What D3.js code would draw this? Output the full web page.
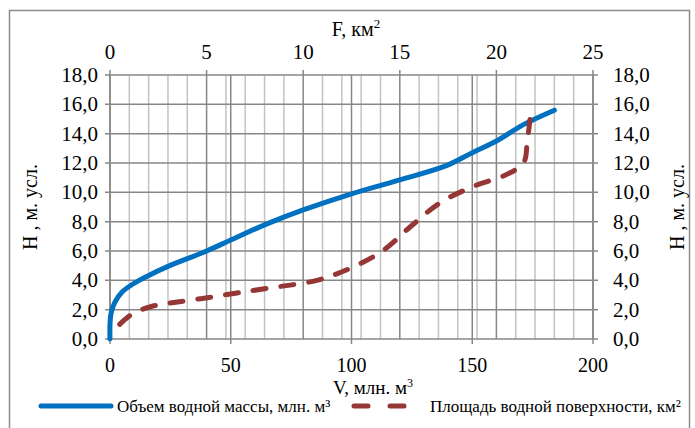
<!DOCTYPE html>
<html lang="ru">
<head>
    <meta charset="UTF-8">
    <title>H-V-F</title>
    <script src="https://d3js.org/d3.v7.min.js"></script>
    <style>
        body { margin: 0; overflow: hidden; background: #fff; }
        svg { display: block; }
        text { font-family: "Liberation Serif", "Times New Roman", serif; fill: #000; }
    </style>
</head>
<body>
    <svg width="695" height="428"></svg>
    <script>
        // Объем водной массы (V, млн. м3) по отметке H
        const volV = [0, 0, 0.5, 2, 5, 9.5, 15, 24, 40, 50, 65, 80, 100, 120, 139, 150, 160, 171, 184];
        const volH = [0, 1.0, 1.8, 2.5, 3.2, 3.75, 4.25, 4.95, 6.0, 6.75, 7.85, 8.8, 9.9, 10.85, 11.8, 12.7, 13.5, 14.6, 15.6];

        // Площадь водной поверхности (F, км2) по отметке H
        const areaF = [0.5, 1.2, 2.1, 3.1, 4.7, 6.4, 8.1, 10.7, 12.4, 14.1, 15.5, 17.1, 18.8, 20.5, 21.4, 21.6, 21.8];
        const areaH = [1.0, 1.75, 2.2, 2.45, 2.75, 3.1, 3.45, 4.0, 4.8, 6.0, 7.6, 9.3, 10.4, 11.2, 12.0, 13.5, 15.7];

        const vTicks = [0, 50, 100, 150, 200];
        const fTicks = [0, 5, 10, 15, 20, 25];
        const fMinor = d3.range(0, 26, 1);
        const hTicks = [0, 2, 4, 6, 8, 10, 12, 14, 16, 18];

        const svg = d3.select("svg");
        const pL = 110, pR = 593, pT = 75, pB = 339;

        const x = d3.scaleLinear().domain([0, 200]).range([pL, pR]);
        const xF = d3.scaleLinear().domain([0, 25]).range([pL, pR]);
        const y = d3.scaleLinear().domain([0, 18]).range([pB, pT]);
        const fmt = d => d3.format(".1f")(d).replace(".", ",");

        // рамка
        svg.append("rect")
            .attr("x", 9.5).attr("y", 10.5)
            .attr("width", 680).attr("height", 440)
            .attr("fill", "none").attr("stroke", "#8c8c8c").attr("stroke-width", 1.5);

        const grid = svg.append("g");
        // мелкая сетка по F
        grid.selectAll(".fminor").data(fMinor.filter(d => d % 5 !== 0))
            .enter().append("line")
            .attr("x1", d => xF(d)).attr("x2", d => xF(d))
            .attr("y1", pT).attr("y2", pB)
            .attr("stroke", "#c3c3c3").attr("stroke-width", 1.5);
        grid.selectAll(".fmajor").data(fTicks)
            .enter().append("line")
            .attr("x1", d => xF(d)).attr("x2", d => xF(d))
            .attr("y1", pT - 5).attr("y2", pB)
            .attr("stroke", "#878787").attr("stroke-width", 1.5);
        grid.selectAll(".vmajor").data(vTicks)
            .enter().append("line")
            .attr("x1", d => x(d)).attr("x2", d => x(d))
            .attr("y1", pT).attr("y2", pB + 5)
            .attr("stroke", "#878787").attr("stroke-width", 1.5);
        grid.selectAll(".hmajor").data(hTicks)
            .enter().append("line")
            .attr("x1", pL - 5).attr("x2", pR + 5)
            .attr("y1", d => y(d)).attr("y2", d => y(d))
            .attr("stroke", "#878787").attr("stroke-width", 1.5);

        // подписи осей
        svg.selectAll(".vlab").data(vTicks).enter().append("text")
            .attr("x", d => x(d)).attr("y", 372)
            .attr("text-anchor", "middle").attr("font-size", 20)
            .text(d => d);
        svg.selectAll(".flab").data(fTicks).enter().append("text")
            .attr("x", d => xF(d)).attr("y", 59)
            .attr("text-anchor", "middle").attr("font-size", 21)
            .text(d => d);
        svg.selectAll(".hlab").data(hTicks).enter().append("text")
            .attr("x", pL - 12).attr("y", d => y(d) + 7)
            .attr("text-anchor", "end").attr("font-size", 21)
            .text(fmt);
        svg.selectAll(".hlabr").data(hTicks).enter().append("text")
            .attr("x", pR + 20).attr("y", d => y(d) + 7)
            .attr("text-anchor", "start").attr("font-size", 21)
            .text(fmt);

        // заголовки осей
        const tF = svg.append("text").attr("x", 356).attr("y", 36)
            .attr("text-anchor", "middle").attr("font-size", 20);
        tF.append("tspan").text("F, км");
        tF.append("tspan").attr("font-size", 13).attr("dy", -8).text("2");

        const tV = svg.append("text").attr("x", 373).attr("y", 394)
            .attr("text-anchor", "middle").attr("font-size", 19);
        tV.append("tspan").text("V, млн. м");
        tV.append("tspan").attr("font-size", 12).attr("dy", -7).text("3");

        [30, 677].forEach(cx => {
            svg.append("text")
                .attr("transform", `translate(${cx},207) rotate(-90)`)
                .attr("text-anchor", "middle").attr("dy", 7).attr("font-size", 20)
                .text("H , м. усл.");
        });

        // кривые
        const volLine = d3.line()
            .x(d => x(d[0])).y(d => y(d[1]))
            .curve(d3.curveCatmullRom.alpha(0.5));
        svg.append("path")
            .datum(d3.zip(volV, volH))
            .attr("d", volLine)
            .attr("fill", "none").attr("stroke", "#0070c0")
            .attr("stroke-width", 5).attr("stroke-linecap", "round");

        const areaLine = d3.line()
            .x(d => xF(d[0])).y(d => y(d[1]))
            .curve(d3.curveCatmullRom.alpha(0.5));
        svg.append("path")
            .datum(d3.zip(areaF, areaH))
            .attr("d", areaLine)
            .attr("fill", "none").attr("stroke", "#953735")
            .attr("stroke-width", 5).attr("stroke-linecap", "round")
            .attr("stroke-dasharray", "13 15");

        // легенда
        const lg = svg.append("g");
        lg.append("line").attr("x1", 41).attr("x2", 111).attr("y1", 406).attr("y2", 406)
            .attr("stroke", "#0070c0").attr("stroke-width", 5).attr("stroke-linecap", "round");
        lg.append("text").attr("x", 117).attr("y", 412).attr("font-size", 17)
            .text("Объем водной массы, млн. м³");
        lg.append("line").attr("x1", 354).attr("x2", 408).attr("y1", 406).attr("y2", 406)
            .attr("stroke", "#953735").attr("stroke-width", 5).attr("stroke-linecap", "round")
            .attr("stroke-dasharray", "14 22");
        lg.append("text").attr("x", 430).attr("y", 412).attr("font-size", 17)
            .text("Площадь водной поверхности, км²");
    </script>
</body>
</html>
